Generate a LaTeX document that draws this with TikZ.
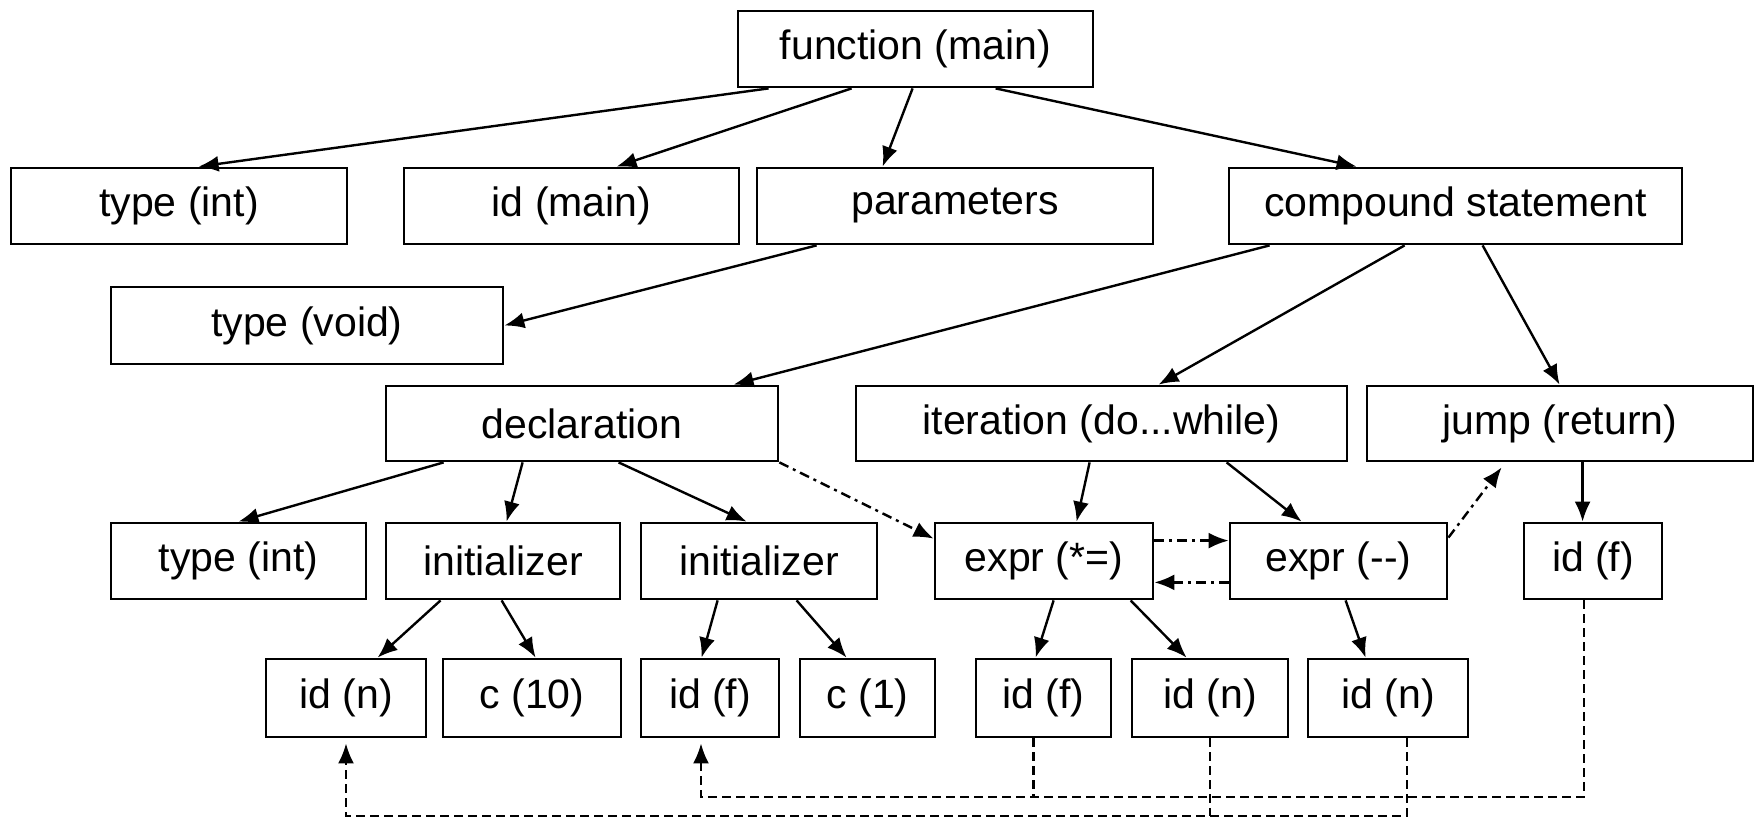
\documentclass[tikz,border=0pt]{standalone}
\usepackage{fontspec}
\setmainfont{Liberation Sans}
\usetikzlibrary{arrows.meta}

\begin{document}
\begin{tikzpicture}[x=1pt, y=-1pt,
  every node/.style = {shape=rectangle, draw, line width=2.8pt,
    inner sep=0pt, minimum height=76pt,
    font=\fontsize{41}{48}\selectfont},
  childline/.style = {line width=2.4pt, -{Latex[length=20pt,width=16pt]}},
  flowline/.style = {childline, dash pattern=on 10pt off 5pt on 3pt off 5pt},
  useline/.style = {line width=2.4pt, dash pattern=on 9pt off 5pt}]
  \useasboundingbox (0,0) rectangle (1754,818);
  \node[minimum width=355pt] (func) at (915.5,49) {function (main)};
  \node[minimum width=336pt] (typeint) at (179,206) {type (int)};
  \node[minimum width=335pt] (idmain) at (571.5,206) {id (main)};
  \node[minimum width=396pt] (params) at (955,206) {parameters};
  \node[minimum width=453pt] (compound) at (1455.5,206) {compound statement};
  \node[minimum width=392pt, minimum height=77pt] (typevoid) at (307,325.5) {type (void)};
  \node[minimum width=392pt, minimum height=75pt] (decl) at (582,423.5) {declaration};
  \node[minimum width=491pt, minimum height=75pt] (iter) at (1101.5,423.5) {iteration (do...while)};
  \node[minimum width=386pt, minimum height=75pt] (jump) at (1560,423.5) {jump (return)};
  \node[minimum width=255pt] (typeB) at (238.5,561) {type (int)};
  \node[minimum width=234pt] (init1) at (503,561) {initializer};
  \node[minimum width=236pt] (init2) at (759,561) {initializer};
  \node[minimum width=218pt] (exprA) at (1044,561) {expr (*=)};
  \node[minimum width=217pt] (exprB) at (1338.5,561) {expr (-{}-)};
  \node[minimum width=138pt] (idfR) at (1593,561) {id (f)};
  \node[minimum width=160pt, minimum height=78pt] (idn1) at (346,698) {id (n)};
  \node[minimum width=178pt, minimum height=78pt] (c10) at (532,698) {c (10)};
  \node[minimum width=138pt, minimum height=78pt] (idf1) at (710,698) {id (f)};
  \node[minimum width=135pt, minimum height=78pt] (c1) at (867.5,698) {c (1)};
  \node[minimum width=135pt, minimum height=78pt] (idf2) at (1043.5,698) {id (f)};
  \node[minimum width=156pt, minimum height=78pt] (idn2) at (1210,698) {id (n)};
  \node[minimum width=160pt, minimum height=78pt] (idn3) at (1388,698) {id (n)};
  \coordinate (fbus) at (0,797);
  \coordinate (nbus) at (0,816);
  \draw[childline] ([xshift=32pt]func.south west) -- ([xshift=189pt]typeint.north west);
  \draw[childline] ([xshift=115pt]func.south west) -- ([xshift=214pt]idmain.north west);
  \draw[childline] ([xshift=176pt]func.south west) -- ([xshift=127pt]params.north west);
  \draw[childline] ([xshift=259pt]func.south west) -- ([xshift=129pt]compound.north west);
  \draw[childline] ([xshift=61pt]params.south west) -- (typevoid.east);
  \draw[childline] ([xshift=42pt]compound.south west) -- ([xshift=349pt]decl.north west);
  \draw[childline] ([xshift=177pt]compound.south west) -- ([xshift=304pt]iter.north west);
  \draw[childline] ([xshift=255pt]compound.south west) -- ([xshift=194pt]jump.north west);
  \draw[childline] ([xshift=59pt]decl.south west) -- (typeB.north);
  \draw[childline] ([xshift=138pt]decl.south west) -- ([xshift=122pt]init1.north west);
  \draw[childline] ([xshift=234pt]decl.south west) -- ([xshift=107pt]init2.north west);
  \draw[childline] ([xshift=235pt]iter.south west) -- ([xshift=143pt]exprA.north west);
  \draw[childline] ([xshift=372pt]iter.south west) -- ([xshift=73pt]exprB.north west);
  \draw[childline] ([xshift=217pt]jump.south west) -- ([xshift=60pt]idfR.north west);
  \draw[childline] ([xshift=56pt]init1.south west) -- ([xshift=113pt]idn1.north west);
  \draw[childline] ([xshift=117pt]init1.south west) -- ([xshift=94pt]c10.north west);
  \draw[childline] ([xshift=78pt]init2.south west) -- ([xshift=62pt]idf1.north west);
  \draw[childline] ([xshift=157pt]init2.south west) -- ([xshift=48pt]c1.north west);
  \draw[childline] ([xshift=120pt]exprA.south west) -- ([xshift=61pt]idf2.north west);
  \draw[childline] ([xshift=197pt]exprA.south west) -- ([xshift=56pt]idn2.north west);
  \draw[childline] ([xshift=117pt]exprB.south west) -- ([xshift=59pt]idn3.north west);
  \draw[flowline] (decl.south east) -- ([yshift=-17pt]exprA.north west);
  \draw[flowline] ([yshift=-19pt]exprA.north east) -- ([yshift=-19pt]exprB.north west);
  \draw[flowline] ([yshift=18pt]exprB.south west) -- ([yshift=18pt]exprA.south east);
  \draw[flowline] ([yshift=-16pt]exprB.north east) -- ([xshift=136pt,yshift=-5pt]jump.south west);
  \draw[useline, -{Latex[length=20pt,width=16pt]}] ([xshift=-9pt]idfR.south) -- ([xshift=-9pt]idfR.south |- fbus) -| ([xshift=-9pt,yshift=-5pt]idf1.south);
  \draw[useline] ([xshift=-10pt]idf2.south) -- ([xshift=-10pt]idf2.south |- fbus);
  \draw[useline, -{Latex[length=20pt,width=16pt]}] ([xshift=19pt]idn3.south) -- ([xshift=19pt]idn3.south |- nbus) -| ([yshift=-5pt]idn1.south);
  \draw[useline] (idn2.south) -- (idn2.south |- nbus);
\end{tikzpicture}
\end{document}
